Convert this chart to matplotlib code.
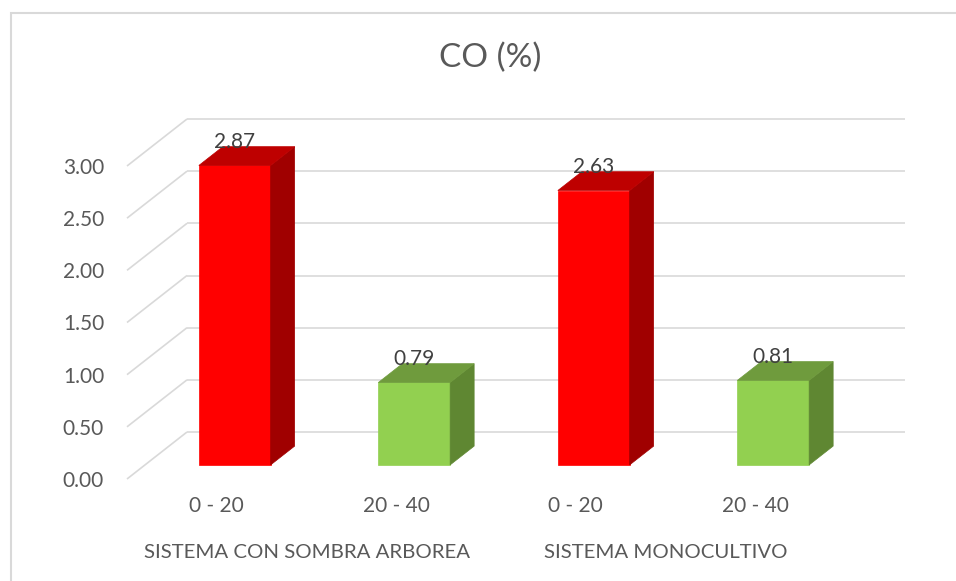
import matplotlib.pyplot as plt
from matplotlib.patches import Polygon, Rectangle
import matplotlib.transforms as mtransforms

# datos
categorias = ["0 - 20", "20 - 40", "0 - 20", "20 - 40"]
grupos = ["SISTEMA CON SOMBRA ARBOREA", "SISTEMA MONOCULTIVO"]
valores = [2.87, 0.79, 2.63, 0.81]
y_ticks = [0.0, 0.5, 1.0, 1.5, 2.0, 2.5, 3.0]

col_frente = ["#FF0000", "#92D050", "#FF0000", "#92D050"]
col_lado = ["#A00000", "#5F8732", "#A00000", "#5F8732"]
col_arriba = ["#BE0000", "#6F9B3D", "#BE0000", "#6F9B3D"]

gris = "#595959"
grid_col = "#D9D9D9"
plt.rcParams['font.family'] = ['Lato', 'DejaVu Sans']

W, H = 956, 581
fig = plt.figure(figsize=(W / 100, H / 100), dpi=100)
# plano frontal del grafico 3D
ax = fig.add_axes([127 / W, 102 / H, 718 / W, 313 / H])
ax.set_xlim(-0.5, 3.5)
ax.set_ylim(0, 3)
for s in ax.spines.values():
    s.set_visible(False)

# profundidad de la pared (en unidades de datos)
ddx = 60 / 179.5
ddy = 47 / (313 / 3)

# lineas de la pared lateral y la pared del fondo
for v in y_ticks:
    ax.plot([-0.5, -0.5 + ddx], [v, v + ddy], color=grid_col, lw=1.2,
            clip_on=False, zorder=1, solid_capstyle='butt')
    ax.plot([-0.5 + ddx, 3.5 + ddx], [v + ddy, v + ddy], color=grid_col, lw=1.2,
            clip_on=False, zorder=1, solid_capstyle='butt')

# barras 3D
ancho = 0.4
z0, z1 = 0.3, 0.7
for i, v in enumerate(valores):
    x0 = i - ancho / 2 + z0 * ddx
    x1 = x0 + ancho
    b = z0 * ddy
    t = b + v
    ox = (z1 - z0) * ddx
    oy = (z1 - z0) * ddy
    frente = Polygon([(x0, b), (x1, b), (x1, t), (x0, t)], closed=True,
                     facecolor=col_frente[i], edgecolor=col_frente[i], lw=0.5, zorder=3, clip_on=False)
    lado = Polygon([(x1, b), (x1 + ox, b + oy), (x1 + ox, t + oy), (x1, t)], closed=True,
                   facecolor=col_lado[i], edgecolor=col_lado[i], lw=0.5, zorder=3, clip_on=False)
    arriba = Polygon([(x0, t), (x1, t), (x1 + ox, t + oy), (x0 + ox, t + oy)], closed=True,
                     facecolor=col_arriba[i], edgecolor=col_arriba[i], lw=0.5, zorder=3, clip_on=False)
    ax.add_patch(frente)
    ax.add_patch(lado)
    ax.add_patch(arriba)
    ax.text((x0 + x1) / 2, t + oy - 0.01, f"{v:.2f}", ha='center', va='baseline',
            fontsize=15, color="#404040", zorder=4)

# ejes
ax.set_yticks(y_ticks)
ax.set_yticklabels([f"{v:.2f}" for v in y_ticks])
ax.set_xticks(range(len(categorias)))
ax.set_xticklabels(categorias)
ax.tick_params(axis='y', length=0, pad=16.5, labelsize=15, labelcolor=gris)
ax.tick_params(axis='x', length=0, pad=12.5, labelsize=15, labelcolor=gris)

trans = mtransforms.blended_transform_factory(ax.transData, ax.transAxes)
for g, nombre in enumerate(grupos):
    ax.text(2 * g + 0.5, -0.236, nombre, transform=trans, ha='center', va='center',
            fontsize=14.7, color=gris)

fig.text(490 / W, 1 - 58 / H, "CO (%)", ha='center', va='center', fontsize=24, color=gris)

# borde del area del grafico
fig.patches.append(Rectangle((11 / W, -0.1), 2, 1.1 - 13 / H, transform=fig.transFigure,
                             fill=False, edgecolor=grid_col, lw=1.5))

fig.savefig("out.png", dpi=100)
